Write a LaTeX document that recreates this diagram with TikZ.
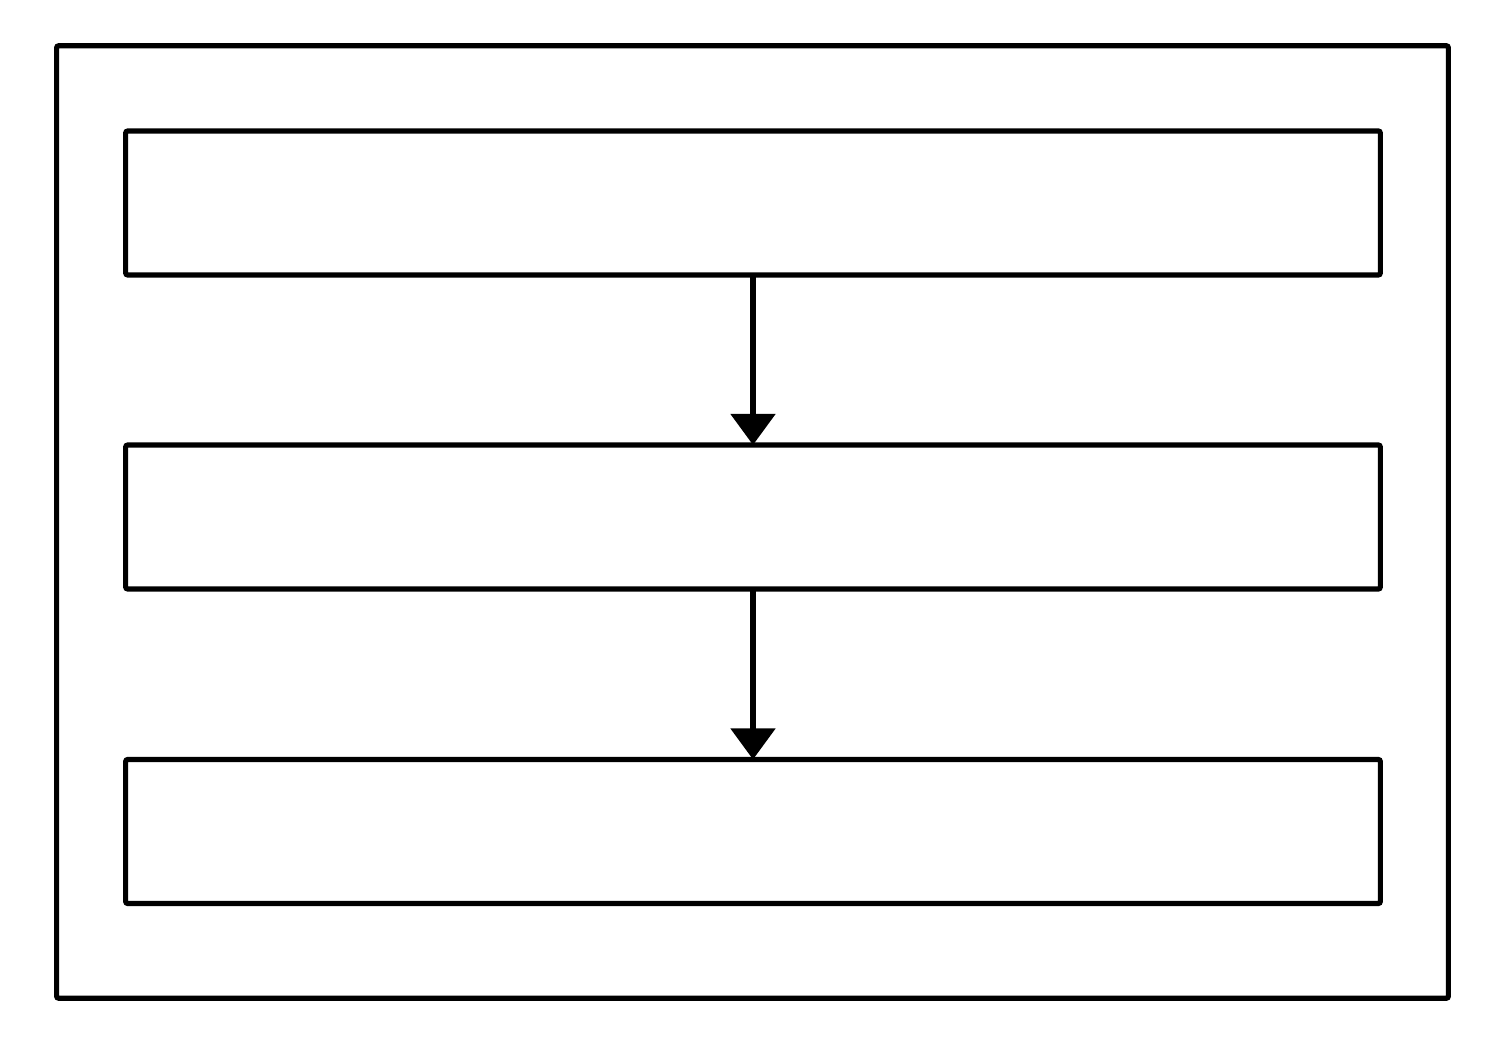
\documentclass[tikz,border=0pt]{standalone}
\usetikzlibrary{arrows.meta}
\begin{document}
\begin{tikzpicture}[x=0.01cm,y=-0.01cm,
  frame/.style={draw=black,line width=1.45pt,rectangle,rounded corners=0.6pt,inner sep=0pt,outer sep=0pt},
  stepbox/.style={frame,minimum width=12.54cm,minimum height=1.44cm},
  conn/.style={draw=black,line width=1.45pt,-{Triangle[length=0.31cm,width=0.44cm]}}]
\useasboundingbox (0,0) rectangle (1503,1046);
\node[frame,minimum width=13.91cm,minimum height=9.52cm] (outer) at (752.5,522) {};
\node[stepbox] (b1) at (753,203) {};
\node[stepbox] (b2) at (753,517) {};
\node[stepbox] (b3) at (753,831.5) {};
\draw[conn] (b1.south) -- (b2.north);
\draw[conn] (b2.south) -- (b3.north);
\end{tikzpicture}
\end{document}
